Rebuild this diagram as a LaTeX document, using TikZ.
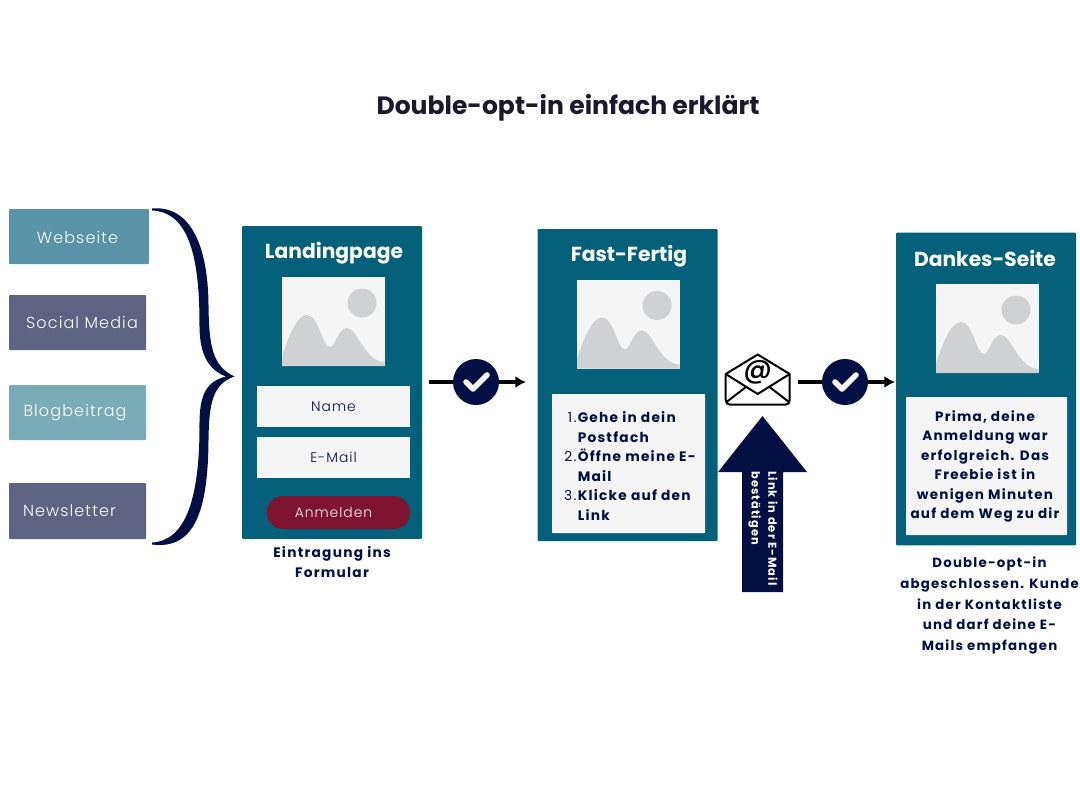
\documentclass[tikz,border=0pt]{standalone}
\usepackage{fontspec}
\setmainfont{Poppins}[LetterSpace=9]
\newfontfamily\headfont{Poppins}[LetterSpace=0]
\newfontfamily\lightfont{Poppins Light}[LetterSpace=7]
\newfontfamily\mediumfont{Poppins Medium}[LetterSpace=0]
\usetikzlibrary{calc,arrows.meta}
\definecolor{teal1}{HTML}{02607A}
\definecolor{navy1}{HTML}{010F43}
\definecolor{boxgrey}{HTML}{F5F5F5}
\definecolor{phgrey}{HTML}{D0D1D3}
\definecolor{web}{HTML}{5893A7}
\definecolor{soc}{HTML}{5E6384}
\definecolor{blog}{HTML}{7BABB9}
\definecolor{wine}{HTML}{7F1431}
\definecolor{titlec}{HTML}{1A1A2C}
\newcommand{\placeholder}[3]{%
  \begin{scope}[shift={(#1,#2)}]
    \node[phbox] (#3) at (51.5,44.5) {};
    \fill[phgrey] (80,26) circle (14.5);
    \fill[phgrey] (0,89) -- (0,80) .. controls (6,60) and (15,38) .. (25,38)
      .. controls (37,38) and (40,70) .. (48,70)
      .. controls (53,70) and (56,51) .. (65,51)
      .. controls (75,51) and (83,85) .. (102.5,85) -- (102.5,89) -- cycle;
  \end{scope}}
\tikzset{
  x=0.75pt,y=-0.75pt,
  srcbox/.style={minimum height=41.25pt,inner sep=0pt,rounded corners=0.7pt},
  srctext/.style={text=white,inner sep=0pt,font=\lightfont\fontsize{12}{14}\selectfont},
  panel/.style={fill=teal1,minimum width=135pt,minimum height=234.5pt,inner sep=0pt,rounded corners=0.7pt},
  panelhead/.style={text=white,font=\headfont\fontsize{15.2}{18}\selectfont\bfseries,inner sep=0pt},
  phbox/.style={fill=boxgrey,minimum width=77.25pt,minimum height=66.75pt,inner sep=0pt},
  field/.style={fill=boxgrey,minimum width=114.75pt,minimum height=30.75pt,inner sep=0pt,text=navy1,font=\lightfont\fontsize{10.4}{12}\selectfont},
  whitebox/.style={fill=boxgrey,inner sep=0pt,rounded corners=0.5pt},
  bodytext/.style={text=navy1,inner sep=0pt,align=center,font=\fontsize{10.3}{14.6}\selectfont\bfseries},
  flowline/.style={draw=black,line width=2.3pt,-{Latex[length=8pt,width=9pt]}},
  checkdot/.style={circle,fill=navy1,minimum size=34.5pt,inner sep=0pt},
  checkmark/.style={draw=boxgrey,line width=4.2pt,line cap=round,line join=round},
}
\begin{document}
\begin{tikzpicture}
\useasboundingbox (0,0) rectangle (1080,810);
\node[text=titlec,inner sep=0pt,font=\headfont\fontsize{18.8}{22}\selectfont\bfseries] (title) at (568,108) {Double-opt-in einfach erklärt};

% sources
\node[srcbox,fill=web,minimum width=105pt] (s1) at (79,236.5) {};
\node[srctext] (s1t) at (77.5,237.5) {Webseite};
\node[srcbox,fill=soc,minimum width=102.75pt] (s2) at (77.5,322.5) {};
\node[srctext] (s2t) at (82,322.5) {Social Media};
\node[srcbox,fill=blog,minimum width=102.75pt] (s3) at (77.5,412.5) {};
\node[srctext] (s3t) at (75,412.5) {Blogbeitrag};
\node[srcbox,fill=soc,minimum width=102.75pt,minimum height=42pt] (s4) at (77.5,511) {};
\node[srctext] (s4t) at (69.5,510.5) {Newsletter};

% brace
\fill[navy1] (152,208.5) .. controls (190,205) and (208,245) .. (208.5,305)
  .. controls (209,345) and (212,366) .. (234.5,376.5)
  .. controls (212,384) and (209,405) .. (208.5,440)
  .. controls (208,510) and (195,550) .. (152,544.5)
  -- (152,542.5) .. controls (185,541) and (199,500) .. (199.5,430)
  .. controls (199,400) and (203,382) .. (226,376.5)
  .. controls (203,368) and (199,345) .. (199.5,320)
  .. controls (199,260) and (190,212) .. (152,210.5) -- cycle;

% landing page
\node[panel] (p1) at (332,382.5) {};
\node[panelhead] (p1h) at (334,253) {Landingpage};
\placeholder{282}{277}{img1}
\node[field] (name) at (333.5,406.5) {Name};
\node[field] (mail) at (333.5,457.5) {E-Mail};
\node[fill=wine,rounded corners=12pt,minimum width=107.25pt,minimum height=24.75pt,inner sep=0pt] (btn) at (338.5,512.5) {};
\node[text=boxgrey,inner sep=0pt,font=\lightfont\fontsize{10.4}{12}\selectfont] (btnt) at (333.5,512.5) {Anmelden};
\node[bodytext] (cap1) at (332,562) {Eintragung ins\\Formular};

% fast fertig
\node[panel,minimum height=234pt] (p2) at (627.5,385) {};
\node[panelhead] (p2h) at (629,256) {Fast-Fertig};
\placeholder{577}{279.5}{img2}
\node[whitebox,minimum width=114.75pt,minimum height=104.25pt] (b2) at (628.5,463.5) {};
\node[bodytext,align=left,anchor=west] (b2t) at (577.5,466)
 {\llap{\mdseries 1.\kern1pt}Gehe in dein\\Postfach\\\llap{\mdseries 2.\kern1pt}Öffne meine E-\\Mail\\\llap{\mdseries 3.\kern1pt}Klicke auf den\\Link};

% dankes
\node[panel] (p3) at (986,389) {};
\node[panelhead] (p3h) at (985,258) {Dankes-Seite};
\placeholder{936}{284}{img3}
\node[whitebox,minimum width=120.75pt,minimum height=103.5pt] (b3) at (986.5,466) {};
\node[bodytext,font=\fontsize{10.15}{14.6}\selectfont\bfseries] (b3t) at (985,466.5) {Prima, deine\\Anmeldung war\\erfolgreich. Das\\Freebie ist in\\wenigen Minuten\\auf dem Weg zu dir};
\node[bodytext,font=\fontsize{10}{15.4}\selectfont\bfseries] (cap3) at (989.5,605.5) {Double-opt-in\\abgeschlossen. Kunde\\in der Kontaktliste\\und darf deine E-\\Mails empfangen};

% flow 1
\coordinate (a1s) at (429,382);
\coordinate (a1e) at (526,382);
\draw[flowline] (a1s) -- (a1e);
\node[checkdot] (c1) at (476,382) {};
\draw[checkmark] ($(c1)+(-10,0)$) -- ($(c1)+(-3,7)$) -- ($(c1)+(11,-7)$);

% envelope
\node[inner sep=0pt,minimum width=48pt,minimum height=38pt] (env) at (757.5,379.5) {};
\draw[black,line width=1.5pt,line join=round,fill=white]
  (725.7,374) -- (757.7,354.5) -- (789.7,374) -- (789.7,400) .. controls (789.7,403) and (788,404.5) .. (786,404.5)
  -- (729.5,404.5) .. controls (727.5,404.5) and (725.7,403) .. (725.7,400) -- cycle;
\draw[black,line width=1.5pt,line join=round]
  (725.7,374) -- (757.7,394) -- (789.7,374)
  (726.5,402) -- (746,387) (789,402) -- (769.5,387);
\node[inner sep=0pt,font=\mediumfont\fontsize{21}{22}\selectfont] (at) at (757.7,372) {@};

% flow 2
\coordinate (a2s) at (798,382);
\coordinate (a2e) at (895,382);
\draw[flowline] (a2s) -- (a2e);
\node[checkdot] (c2) at (845,382) {};
\draw[checkmark] ($(c2)+(-10,0)$) -- ($(c2)+(-3,7)$) -- ($(c2)+(11,-7)$);

% big arrow
\fill[navy1] (762.5,416) -- (807,472) -- (783,472) -- (783,592) -- (742,592) -- (742,472) -- (718,472) -- cycle;
\node[rotate=-90,text=white,inner sep=0pt,align=left,anchor=north west,font=\fontsize{8.6}{12.4}\selectfont\bfseries] (linkt) at (777.7,471) {Link in der E-Mail\\bestätigen};
\end{tikzpicture}
\end{document}
